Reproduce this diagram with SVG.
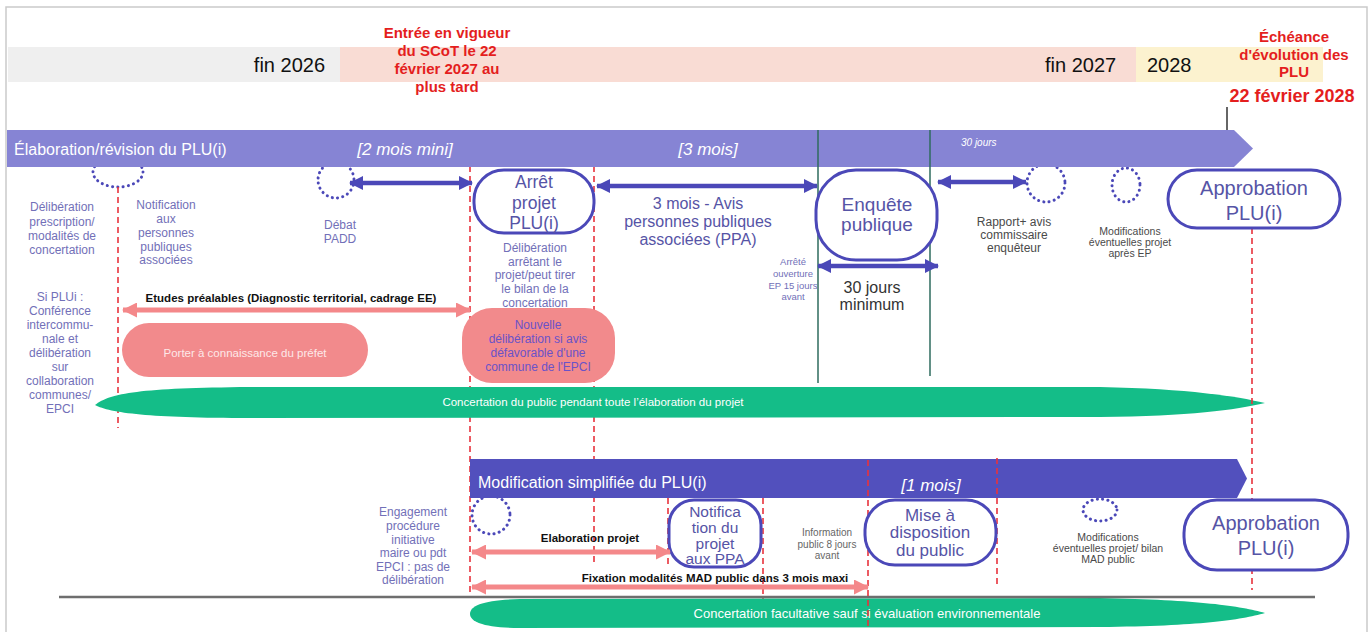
<svg xmlns="http://www.w3.org/2000/svg" width="1372" height="632" viewBox="0 0 1372 632">
<defs>
<style>
text{font-family:"Liberation Sans",Arial,sans-serif}
.lbl{font-size:12px;fill:#7270b8;text-anchor:middle}
.gry{fill:#4a4a4a;text-anchor:middle}
.box{fill:#fff;stroke:#4b48b8;stroke-width:3}
.bt{fill:#5654a6;text-anchor:middle}
.dot{fill:none;stroke:#4b48b8;stroke-width:3;stroke-dasharray:0.1 5.2;stroke-linecap:round}
.red{stroke:#e8323c;stroke-width:1.6;stroke-dasharray:6 4;fill:none}
.vg{stroke:#2e6b5e;stroke-width:1.5}
.ba{stroke:#4b48b8;stroke-width:4.5;marker-start:url(#hb);marker-end:url(#hb)}
.pa{stroke:#f4888a;stroke-width:5;marker-start:url(#hp);marker-end:url(#hp)}
.bw{fill:#fff;font-size:17px;font-style:italic;text-anchor:middle}
.bold{font-size:11.5px;font-weight:bold;fill:#111;text-anchor:middle}
.red-t{fill:#e41e1e;font-weight:bold;text-anchor:middle}
</style>
<marker id="hb" viewBox="0 0 14 14" refX="13" refY="7" markerWidth="14" markerHeight="14" markerUnits="userSpaceOnUse" orient="auto-start-reverse"><path d="M0,0 L14,7 L0,14 Z" fill="#4b48b8"/></marker>
<marker id="hp" viewBox="0 0 15 15" refX="14" refY="7.5" markerWidth="15" markerHeight="15" markerUnits="userSpaceOnUse" orient="auto-start-reverse"><path d="M0,0 L15,7.5 L0,15 Z" fill="#f4888a"/></marker>
</defs>
<rect x="0" y="0" width="1372" height="632" fill="#fff"/>
<rect x="6" y="7" width="1361" height="632" fill="none" stroke="#cacaca" stroke-width="1.5"/>

<g id="timeline">
<rect x="8" y="47" width="332" height="35" fill="#efefef"/>
<rect x="340" y="47" width="796" height="35" fill="#f9dcd4"/>
<rect x="1136" y="47" width="187" height="35" fill="#fcf2cf"/>
<text x="325" y="72" font-size="20" fill="#111" text-anchor="end">fin 2026</text>
<text x="1045" y="72" font-size="20" fill="#111">fin 2027</text>
<text x="1147" y="72" font-size="20" fill="#111">2028</text>
<text class="red-t" font-size="15"><tspan x="447" y="38">Entrée en vigueur</tspan><tspan x="447" y="56">du SCoT le 22</tspan><tspan x="447" y="74">février 2027 au</tspan><tspan x="447" y="92">plus tard</tspan></text>
<text class="red-t" font-size="15"><tspan x="1294" y="42">Échéance</tspan><tspan x="1294" y="60">d'évolution des</tspan><tspan x="1294" y="77">PLU</tspan></text>
<text class="red-t" font-size="18" x="1292" y="102">22 février 2028</text>
<line x1="1227" y1="107" x2="1227" y2="130" stroke="#333" stroke-width="1.5"/>
</g>

<g id="n-prescription"><ellipse class="dot" cx="118" cy="172" rx="25" ry="15"/></g>
<g id="n-debat-circle"><circle class="dot" cx="336" cy="180" r="18"/></g>
<g id="n-rapport-circle"><circle class="dot" cx="1046" cy="183" r="19"/></g>
<g id="n-modif-circle"><ellipse class="dot" cx="1126" cy="185" rx="14" ry="17"/></g>
<g id="n-engagement-circle"><circle class="dot" cx="491" cy="515" r="19"/></g>
<g id="n-modif2-circle"><ellipse class="dot" cx="1100" cy="510" rx="17" ry="11"/></g>

<g id="guides-under">
<line class="red" x1="118" y1="187" x2="118" y2="428"/>
<line class="red" x1="470" y1="166" x2="470" y2="598"/>
<line class="red" x1="594" y1="166" x2="594" y2="566"/>
<line class="red" x1="668" y1="498" x2="668" y2="566"/>
<line class="red" x1="763" y1="498" x2="763" y2="600"/>
<line class="vg" x1="818" y1="130" x2="818" y2="383"/>
<line class="vg" x1="930" y1="130" x2="930" y2="376"/>
</g>

<g id="bar-elaboration">
<path d="M7,130 L1234,130 L1253,148.5 L1234,167 L7,167 Z" fill="#8684d4"/>
<text x="14" y="155" font-size="16" fill="#fff">Élaboration/révision du PLU(i)</text>
<text class="bw" x="405" y="155">[2 mois mini]</text>
<text class="bw" x="708" y="155">[3 mois]</text>
<text x="961" y="146" font-size="10" font-style="italic" fill="#fff">30 jours</text>
</g>
<line class="vg" x1="818" y1="130" x2="818" y2="167"/>
<line class="vg" x1="930" y1="130" x2="930" y2="167"/>

<g id="bar-modification">
<path d="M470,459 L1237,459 L1247,478.5 L1237,498 L470,498 Z" fill="#5250bd"/>
<text x="478" y="488" font-size="16" fill="#fff">Modification simplifiée du PLU(i)</text>
<text class="bw" x="931" y="491">[1 mois]</text>
</g>

<g id="n-concertation">
<path d="M95,405 C110,393 140,388 250,387 L1100,387 C1190,389 1235,396 1265,403 C1235,410 1190,416 1100,417 L250,418 C150,418 110,413 95,405 Z" fill="#14bd88"/>
<text x="593" y="406" font-size="11.5" fill="#fff" text-anchor="middle">Concertation du public pendant toute l’élaboration du projet</text>
</g>
<g id="n-concertation-fac">
<path d="M470,614 C470,605 485,600 520,599 L1100,598 C1200,600 1240,606 1265,613 C1240,620 1200,626 1100,627 L520,628 C485,628 470,622 470,614 Z" fill="#14bd88"/>
<text x="867" y="618" font-size="13" fill="#fff" text-anchor="middle">Concertation facultative sauf si évaluation environnementale</text>
</g>
<line x1="59" y1="597" x2="1315" y2="597" stroke="#6e6e6e" stroke-width="2.5"/>

<g id="guides-over">
<line class="red" x1="1252" y1="228" x2="1252" y2="590"/>
<line class="red" x1="868" y1="460" x2="868" y2="630"/>
<line class="red" x1="997" y1="458" x2="997" y2="587"/>
</g>

<g id="n-porter">
<rect x="122" y="323" width="246" height="54" rx="27" fill="#f28a8c"/>
<text x="245" y="357" font-size="11.5" fill="#fde8e8" text-anchor="middle">Porter à connaissance du préfet</text>
</g>
<g id="n-nouvelle">
<rect x="462" y="308" width="153" height="75" rx="30" fill="#f28a8c"/>
<text font-size="12" fill="#6a52c8" text-anchor="middle"><tspan x="538" y="329">Nouvelle</tspan><tspan x="538" y="343">délibération si avis</tspan><tspan x="538" y="357">défavorable d'une</tspan><tspan x="538" y="371">commune de l'EPCI</tspan></text>
</g>

<g id="n-arret">
<rect class="box" x="474" y="170" width="120" height="63" rx="30"/>
<text class="bt" font-size="17.5"><tspan x="534" y="188">Arrêt</tspan><tspan x="534" y="208.5">projet</tspan><tspan x="534" y="229">PLU(i)</tspan></text>
</g>
<g id="n-enquete">
<rect class="box" x="816" y="170" width="121" height="90" rx="40"/>
<text class="bt" font-size="19"><tspan x="877" y="211">Enquête</tspan><tspan x="877" y="231">publique</tspan></text>
</g>
<g id="n-approbation1">
<rect class="box" x="1168" y="170" width="172" height="58" rx="29"/>
<text class="bt" font-size="20"><tspan x="1254" y="195">Approbation</tspan><tspan x="1254" y="220">PLU(i)</tspan></text>
</g>
<g id="n-notification-ppa">
<rect class="box" x="669" y="500" width="92" height="67" rx="25"/>
<text class="bt" font-size="15.5"><tspan x="715" y="517">Notifica</tspan><tspan x="715" y="533">tion du</tspan><tspan x="715" y="549">projet</tspan><tspan x="715" y="564">aux PPA</tspan></text>
</g>
<g id="n-mise-disposition">
<rect class="box" x="865" y="500" width="131" height="65" rx="30"/>
<text class="bt" font-size="17"><tspan x="930" y="521">Mise à</tspan><tspan x="930" y="538">disposition</tspan><tspan x="930" y="556">du public</tspan></text>
</g>
<g id="n-approbation2">
<rect class="box" x="1184" y="500" width="164" height="70" rx="33"/>
<text class="bt" font-size="20"><tspan x="1266" y="530">Approbation</tspan><tspan x="1266" y="555">PLU(i)</tspan></text>
</g>

<g id="labels">
<text class="lbl"><tspan x="62" y="211">Délibération</tspan><tspan x="62" y="226">prescription/</tspan><tspan x="62" y="240">modalités de</tspan><tspan x="62" y="254">concertation</tspan></text>
<text class="lbl"><tspan x="166" y="209">Notification</tspan><tspan x="166" y="223">aux</tspan><tspan x="166" y="237">personnes</tspan><tspan x="166" y="251">publiques</tspan><tspan x="166" y="264">associées</tspan></text>
<text class="lbl"><tspan x="340" y="229">Débat</tspan><tspan x="340" y="243">PADD</tspan></text>
<text class="lbl"><tspan x="60" y="301">Si PLUi :</tspan><tspan x="60" y="315">Conférence</tspan><tspan x="60" y="329">intercommu-</tspan><tspan x="60" y="343">nale et</tspan><tspan x="60" y="357">délibération</tspan><tspan x="60" y="371">sur</tspan><tspan x="60" y="385">collaboration</tspan><tspan x="60" y="399">communes/</tspan><tspan x="60" y="413">EPCI</tspan></text>
<text class="lbl"><tspan x="535" y="252">Délibération</tspan><tspan x="535" y="266">arrêtant le</tspan><tspan x="535" y="279">projet/peut tirer</tspan><tspan x="535" y="293">le bilan de la</tspan><tspan x="535" y="307">concertation</tspan></text>
<text class="bt" font-size="16"><tspan x="698" y="209">3 mois - Avis</tspan><tspan x="698" y="227">personnes publiques</tspan><tspan x="698" y="245">associées (PPA)</tspan></text>
<text class="lbl" style="font-size:9.5px"><tspan x="793" y="265">Arrêté</tspan><tspan x="793" y="277">ouverture</tspan><tspan x="793" y="289">EP 15 jours</tspan><tspan x="793" y="300">avant</tspan></text>
<text class="gry" font-size="16" style="fill:#333"><tspan x="872" y="293">30 jours</tspan><tspan x="872" y="310">minimum</tspan></text>
<text class="gry" font-size="12"><tspan x="1014" y="226">Rapport+ avis</tspan><tspan x="1014" y="239">commissaire</tspan><tspan x="1014" y="252">enquêteur</tspan></text>
<text class="gry" font-size="10.5"><tspan x="1130" y="235">Modifications</tspan><tspan x="1130" y="246">éventuelles projet</tspan><tspan x="1130" y="257">après EP</tspan></text>
<text class="lbl"><tspan x="413" y="516">Engagement</tspan><tspan x="413" y="530">procédure</tspan><tspan x="413" y="544">initiative</tspan><tspan x="413" y="557">maire ou pdt</tspan><tspan x="413" y="571">EPCI : pas de</tspan><tspan x="413" y="584">délibération</tspan></text>
<text class="gry" font-size="10" style="fill:#666"><tspan x="827" y="536">Information</tspan><tspan x="827" y="548">public 8 jours</tspan><tspan x="827" y="559">avant</tspan></text>
<text class="gry" font-size="10.5"><tspan x="1108" y="541">Modifications</tspan><tspan x="1108" y="552">éventuelles projet/ bilan</tspan><tspan x="1108" y="563">MAD public</tspan></text>
<text class="bold" x="291" y="302">Etudes préalables (Diagnostic territorial, cadrage EE)</text>
<text class="bold" x="590" y="542">Elaboration projet</text>
<text class="bold" x="715" y="582">Fixation modalités MAD public dans 3 mois maxi</text>
</g>

<g id="connectors">
<line class="ba" x1="350" y1="183" x2="472" y2="183"/>
<line class="ba" x1="597" y1="186" x2="817" y2="186"/>
<line class="ba" x1="938" y1="182" x2="1026" y2="182"/>
<line class="ba" x1="818" y1="266" x2="938" y2="266"/>
<line class="pa" x1="123" y1="310" x2="470" y2="310"/>
<line class="pa" x1="472" y1="552" x2="670" y2="552"/>
<line class="pa" x1="472" y1="587" x2="868" y2="587"/>
</g>
</svg>
